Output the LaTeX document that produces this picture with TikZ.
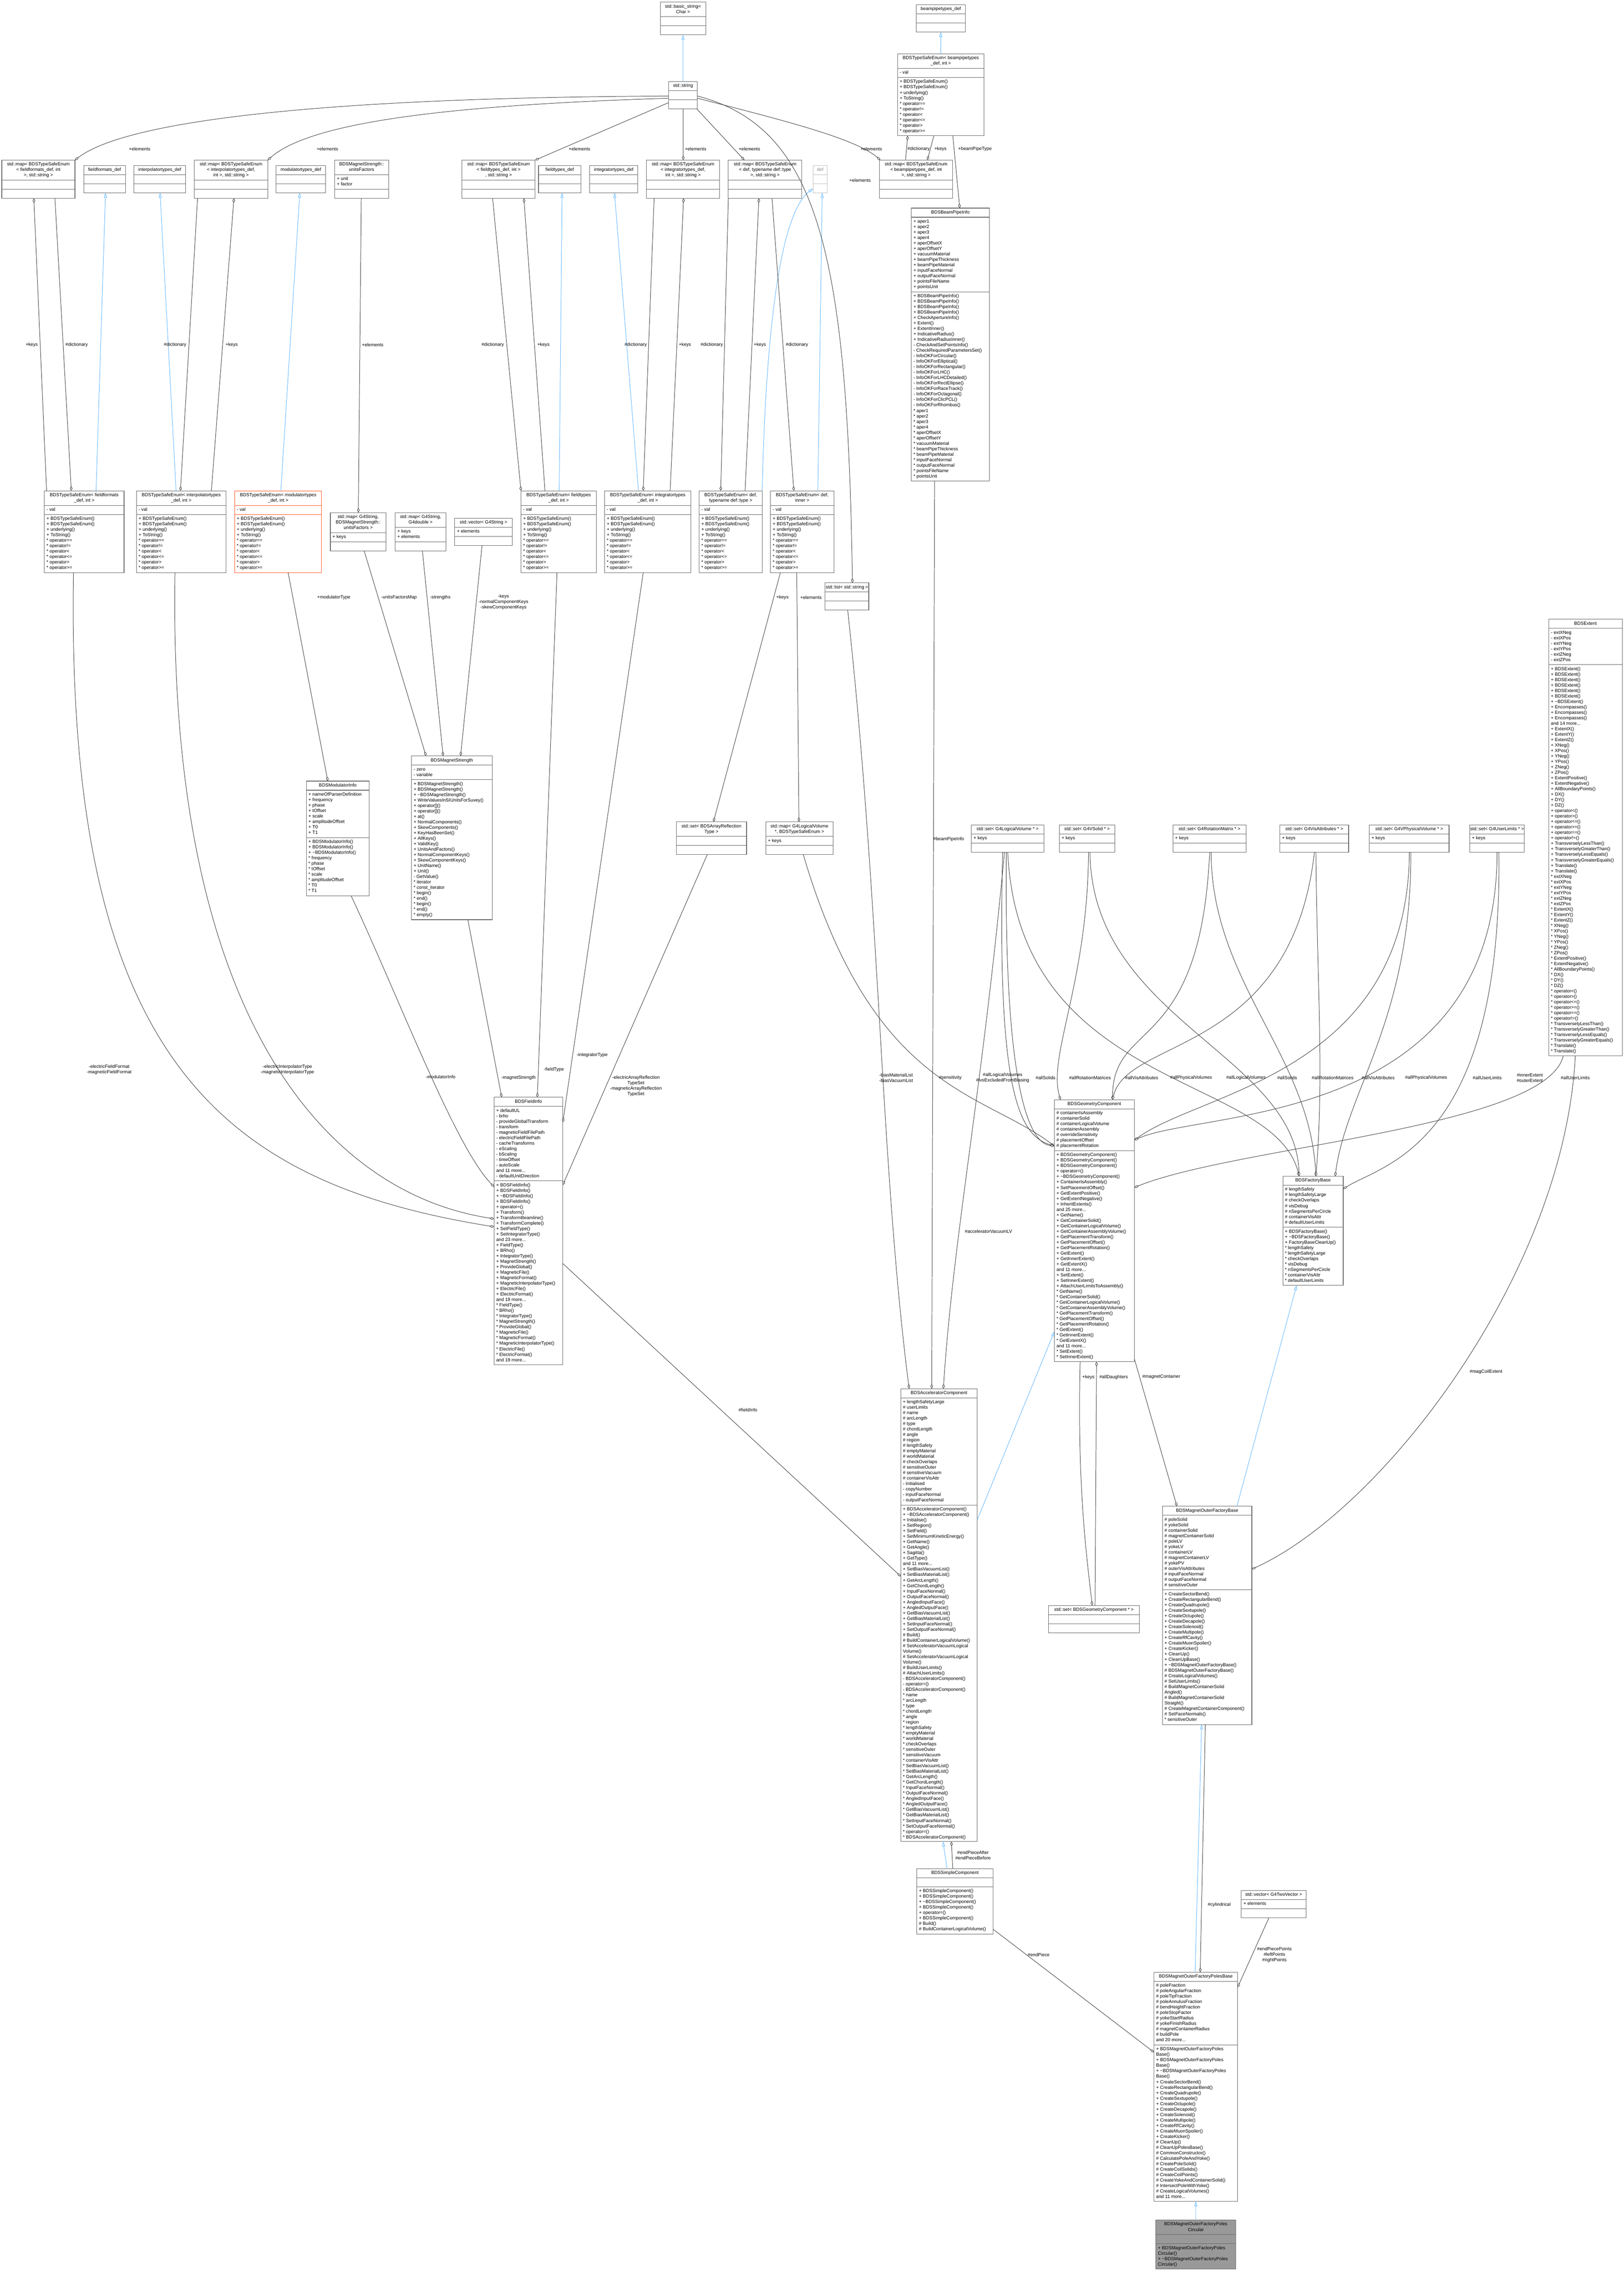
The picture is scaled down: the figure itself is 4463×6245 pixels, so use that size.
\documentclass[tikz,border=0pt]{standalone}
\usepackage{fontspec}
\newfontfamily\dxf{Liberation Sans}
\usetikzlibrary{arrows.meta,calc}
\tikzset{
 txt/.style={font=\dxf\fontsize{3.6}{4.27}\selectfont, inner sep=0, outer sep=0},
 lbl/.style={txt, align=center},
 cls/.style={draw=black!60, fill=white},
 clsred/.style={draw={rgb,255:red,255;green,87;blue,34}, fill=white},
 clsdef/.style={draw=black!25, fill=white},
 clsgray/.style={draw=black!60, fill=black!40},
 agg/.style={draw=black!75, line width=0.35pt, -{Diamond[open,fill=white,length=0.13cm,width=0.07cm]}},
 inh/.style={draw={rgb,255:red,99;green,184;blue,255}, line width=0.35pt, -{Triangle[open,fill=white,length=0.13cm,width=0.08cm]}}
}
\newcommand\ubox[9]{%
 \def\uN{#1}\def\uX{#2}\def\uY{#3}\def\uW{#4}\def\uT{#5}\def\uA{#6}\def\uM{#7}%
 \tikzset{curbox/.style={#8}}\def\uTC{#9}\uboxcont}
\newcommand\uboxcont[3]{%
 \pgfmathsetmacro\hT{\uT*15+10}%
 \pgfmathsetmacro\hA{\uA==0 ? 25 : \uA*15+10}%
 \pgfmathsetmacro\hM{\uM==0 ? 25 : \uM*15+10}%
 \pgfmathsetmacro\hH{(\hT+\hA+\hM)*0.01}%
 \pgfmathsetmacro\wc{\uW*0.01}%
 \node[curbox, line width=0.4pt, minimum width=\wc cm, minimum height=\hH cm, anchor=north west, inner sep=0, outer sep=0] (\uN) at (\uX,\uY) {};
 \draw[curbox, fill=none, line width=0.4pt] ({\uX},{\uY+\hT}) -- ++(\uW,0);
 \draw[curbox, fill=none, line width=0.4pt] ({\uX},{\uY+\hT+\hA}) -- ++(\uW,0);
 \node[txt, anchor=north, align=center, text=\uTC] at ({\uX+\uW/2},{\uY+5}) {\strut #1};
 \node[txt, anchor=north west, align=left, text=\uTC] at ({\uX+6},{\uY+\hT+5}) {\strut #2};
 \node[txt, anchor=north west, align=left, text=\uTC] at ({\uX+6},{\uY+\hT+\hA+5}) {\strut #3};
}
\def\enumM{+ BDSTypeSafeEnum()\\+ BDSTypeSafeEnum()\\+ underlying()\\+ ToString()\\* operator==\\* operator!=\\* operator<\\* operator<=\\* operator>\\* operator>=}
\def\tl{\textasciitilde}
\begin{document}
\begin{tikzpicture}[x=0.01cm,y=-0.01cm]
\useasboundingbox[fill=white] (0,0) rectangle (4463,6245);
% top
\ubox{bstr}{1815}{6}{125}{2}{0}{0}{cls}{black}{std::basic\_string\textless\\Char \textgreater}{}{}
\ubox{str}{1838}{224}{79}{1}{0}{0}{cls}{black}{std::string}{}{}
\ubox{bpdef}{2519}{13}{134}{1}{0}{0}{cls}{black}{beampipetypes\_def}{}{}
\ubox{bpenum}{2467}{148}{238}{2}{1}{10}{cls}{black}{BDSTypeSafeEnum\textless{} beampipetypes\\\_def, int \textgreater}{- val}{\enumM}
% map row
\ubox{mapFF}{5}{440}{201}{3}{0}{0}{cls}{black}{std::map\textless{} BDSTypeSafeEnum\\\textless{} fieldformats\_def, int\\\textgreater, std::string \textgreater}{}{}
\ubox{ffdef}{230}{455}{115}{1}{0}{0}{cls}{black}{fieldformats\_def}{}{}
\ubox{itdef}{368}{455}{142}{1}{0}{0}{cls}{black}{interpolatortypes\_def}{}{}
\ubox{mapIT}{534}{440}{202}{3}{0}{0}{cls}{black}{std::map\textless{} BDSTypeSafeEnum\\\textless{} interpolatortypes\_def,\\int \textgreater, std::string \textgreater}{}{}
\ubox{moddef}{759}{455}{136}{1}{0}{0}{cls}{black}{modulatortypes\_def}{}{}
\ubox{uf}{920}{440}{148}{2}{2}{0}{cls}{black}{BDSMagnetStrength::\\unitsFactors}{+ unit\\+ factor}{}
\ubox{mapFT}{1270}{440}{201}{3}{0}{0}{cls}{black}{std::map\textless{} BDSTypeSafeEnum\\\textless{} fieldtypes\_def, int \textgreater\\, std::string \textgreater}{}{}
\ubox{ftdef}{1480}{455}{117}{1}{0}{0}{cls}{black}{fieldtypes\_def}{}{}
\ubox{intdef}{1621}{455}{132}{1}{0}{0}{cls}{black}{integratortypes\_def}{}{}
\ubox{mapINT}{1777}{440}{201}{3}{0}{0}{cls}{black}{std::map\textless{} BDSTypeSafeEnum\\\textless{} integratortypes\_def,\\int \textgreater, std::string \textgreater}{}{}
\ubox{mapDEF}{2002}{440}{202}{3}{0}{0}{cls}{black}{std::map\textless{} BDSTypeSafeEnum\\\textless{} def, typename def::type\\\textgreater, std::string \textgreater}{}{}
\ubox{def}{2235}{455}{39}{1}{0}{0}{clsdef}{black!45}{def}{}{}
\ubox{mapBP}{2417}{440}{202}{3}{0}{0}{cls}{black}{std::map\textless{} BDSTypeSafeEnum\\\textless{} beampipetypes\_def, int\\\textgreater, std::string \textgreater}{}{}
\ubox{BPI}{2505}{572}{215}{1}{13}{34}{cls}{black}{BDSBeamPipeInfo}{+ aper1\\+ aper2\\+ aper3\\+ aper4\\+ aperOffsetX\\+ aperOffsetY\\+ vacuumMaterial\\+ beamPipeThickness\\+ beamPipeMaterial\\+ inputFaceNormal\\+ outputFaceNormal\\+ pointsFileName\\+ pointsUnit}{+ BDSBeamPipeInfo()\\+ BDSBeamPipeInfo()\\+ BDSBeamPipeInfo()\\+ BDSBeamPipeInfo()\\+ CheckApertureInfo()\\+ Extent()\\+ ExtentInner()\\+ IndicativeRadius()\\+ IndicativeRadiusInner()\\- CheckAndSetPointsInfo()\\- CheckRequiredParametersSet()\\- InfoOKForCircular()\\- InfoOKForElliptical()\\- InfoOKForRectangular()\\- InfoOKForLHC()\\- InfoOKForLHCDetailed()\\- InfoOKForRectEllipse()\\- InfoOKForRaceTrack()\\- InfoOKForOctagonal()\\- InfoOKForClicPCL()\\- InfoOKForRhombus()\\* aper1\\* aper2\\* aper3\\* aper4\\* aperOffsetX\\* aperOffsetY\\* vacuumMaterial\\* beamPipeThickness\\* beamPipeMaterial\\* inputFaceNormal\\* outputFaceNormal\\* pointsFileName\\* pointsUnit}
% enum row
\ubox{eFF}{122}{1349}{219}{2}{1}{10}{cls}{black}{BDSTypeSafeEnum\textless{} fieldformats\\\_def, int \textgreater}{- val}{\enumM}
\ubox{eIT}{375}{1349}{246}{2}{1}{10}{cls}{black}{BDSTypeSafeEnum\textless{} interpolatortypes\\\_def, int \textgreater}{- val}{\enumM}
\ubox{eMOD}{645}{1349}{239}{2}{1}{10}{clsred}{black}{BDSTypeSafeEnum\textless{} modulatortypes\\\_def, int \textgreater}{- val}{\enumM}
\ubox{mapUF}{908}{1409}{153}{3}{1}{0}{cls}{black}{std::map\textless{} G4String,\\BDSMagnetStrength::\\unitsFactors \textgreater}{+ keys}{}
\ubox{mapGD}{1086}{1409}{140}{2}{2}{0}{cls}{black}{std::map\textless{} G4String,\\G4double \textgreater}{+ keys\\+ elements}{}
\ubox{vecS}{1250}{1424}{158}{1}{1}{0}{cls}{black}{std::vector\textless{} G4String \textgreater}{+ elements}{}
\ubox{eFT}{1432}{1349}{207}{2}{1}{10}{cls}{black}{BDSTypeSafeEnum\textless{} fieldtypes\\\_def, int \textgreater}{- val}{\enumM}
\ubox{eINT}{1662}{1349}{237}{2}{1}{10}{cls}{black}{BDSTypeSafeEnum\textless{} integratortypes\\\_def, int \textgreater}{- val}{\enumM}
\ubox{eDEF}{1922}{1349}{173}{2}{1}{10}{cls}{black}{BDSTypeSafeEnum\textless{} def,\\typename def::type \textgreater}{- val}{\enumM}
\ubox{eINN}{2118}{1349}{174}{2}{1}{10}{cls}{black}{BDSTypeSafeEnum\textless{} def,\\inner \textgreater}{- val}{\enumM}
\ubox{listS}{2268}{1602}{120}{1}{0}{0}{cls}{black}{std::list\textless{} std::string \textgreater}{}{}
% middle
\ubox{Mod}{842}{2147}{173}{1}{8}{10}{cls}{black}{BDSModulatorInfo}{+ nameOfParserDefinition\\+ frequency\\+ phase\\+ tOffset\\+ scale\\+ amplitudeOffset\\+ T0\\+ T1}{+ BDSModulatorInfo()\\+ BDSModulatorInfo()\\+ \tl BDSModulatorInfo()\\* frequency\\* phase\\* tOffset\\* scale\\* amplitudeOffset\\* T0\\* T1}
\ubox{MS}{1131}{2078}{222}{1}{2}{25}{cls}{black}{BDSMagnetStrength}{- zero\\- variable}{+ BDSMagnetStrength()\\+ BDSMagnetStrength()\\+ \tl BDSMagnetStrength()\\+ WriteValuesInSIUnitsForSuvey()\\+ operator[]()\\+ operator[]()\\+ at()\\+ NormalComponents()\\+ SkewComponents()\\+ KeyHasBeenSet()\\+ AllKeys()\\+ ValidKey()\\+ UnitsAndFactors()\\+ NormalComponentKeys()\\+ SkewComponentKeys()\\+ UnitName()\\+ Unit()\\- GetValue()\\* iterator\\* const\_iterator\\* begin()\\* end()\\* begin()\\* end()\\* empty()}
\ubox{ART}{1859}{2259}{193}{2}{0}{0}{cls}{black}{std::set\textless{} BDSArrayReflection\\Type \textgreater}{}{}
\ubox{mapLV}{2105}{2259}{185}{2}{1}{0}{cls}{black}{std::map\textless{} G4LogicalVolume\\*, BDSTypeSafeEnum \textgreater}{+ keys}{}
\ubox{setLV}{2670}{2267}{199}{1}{1}{0}{cls}{black}{std::set\textless{} G4LogicalVolume * \textgreater}{+ keys}{}
\ubox{setSol}{2912}{2267}{152}{1}{1}{0}{cls}{black}{std::set\textless{} G4VSolid * \textgreater}{+ keys}{}
\ubox{setRot}{3224}{2267}{201}{1}{1}{0}{cls}{black}{std::set\textless{} G4RotationMatrix * \textgreater}{+ keys}{}
\ubox{setVis}{3518}{2267}{189}{1}{1}{0}{cls}{black}{std::set\textless{} G4VisAttributes * \textgreater}{+ keys}{}
\ubox{setPV}{3764}{2267}{219}{1}{1}{0}{cls}{black}{std::set\textless{} G4VPhysicalVolume * \textgreater}{+ keys}{}
\ubox{setUL}{4040}{2267}{150}{1}{1}{0}{cls}{black}{std::set\textless{} G4UserLimits * \textgreater}{+ keys}{}
\ubox{Extent}{4257}{1702}{202}{1}{6}{71}{cls}{black}{BDSExtent}{- extXNeg\\- extXPos\\- extYNeg\\- extYPos\\- extZNeg\\- extZPos}{+ BDSExtent()\\+ BDSExtent()\\+ BDSExtent()\\+ BDSExtent()\\+ BDSExtent()\\+ BDSExtent()\\+ \tl BDSExtent()\\+ Encompasses()\\+ Encompasses()\\+ Encompasses()\\and 14 more...\\+ ExtentX()\\+ ExtentY()\\+ ExtentZ()\\+ XNeg()\\+ XPos()\\+ YNeg()\\+ YPos()\\+ ZNeg()\\+ ZPos()\\+ ExtentPositive()\\+ ExtentNegative()\\+ AllBoundaryPoints()\\+ DX()\\+ DY()\\+ DZ()\\+ operator\textless()\\+ operator\textgreater()\\+ operator\textless=()\\+ operator\textgreater=()\\+ operator==()\\+ operator!=()\\+ TransverselyLessThan()\\+ TransverselyGreaterThan()\\+ TransverselyLessEquals()\\+ TransverselyGreaterEquals()\\+ Translate()\\+ Translate()\\* extXNeg\\* extXPos\\* extYNeg\\* extYPos\\* extZNeg\\* extZPos\\* ExtentX()\\* ExtentY()\\* ExtentZ()\\* XNeg()\\* XPos()\\* YNeg()\\* YPos()\\* ZNeg()\\* ZPos()\\* ExtentPositive()\\* ExtentNegative()\\* AllBoundaryPoints()\\* DX()\\* DY()\\* DZ()\\* operator\textless()\\* operator\textgreater()\\* operator\textless=()\\* operator\textgreater=()\\* operator==()\\* operator!=()\\* TransverselyLessThan()\\* TransverselyGreaterThan()\\* TransverselyLessEquals()\\* TransverselyGreaterEquals()\\* Translate()\\* Translate()}
\ubox{FieldInfo}{1358}{3016}{189}{1}{13}{33}{cls}{black}{BDSFieldInfo}{+ defaultUL\\- brho\\- provideGlobalTransform\\- transform\\- magneticFieldFilePath\\- electricFieldFilePath\\- cacheTransforms\\- eScaling\\- bScaling\\- timeOffset\\- autoScale\\and 11 more...\\- defaultUnitDirection}{+ BDSFieldInfo()\\+ BDSFieldInfo()\\+ \tl BDSFieldInfo()\\+ BDSFieldInfo()\\+ operator=()\\+ Transform()\\+ TransformBeamline()\\+ TransformComplete()\\+ SetFieldType()\\+ SetIntegratorType()\\and 23 more...\\+ FieldType()\\+ BRho()\\+ IntegratorType()\\+ MagnetStrength()\\+ ProvideGlobal()\\+ MagneticFile()\\+ MagneticFormat()\\+ MagneticInterpolatorType()\\+ ElectricFile()\\+ ElectricFormat()\\and 19 more...\\* FieldType()\\* BRho()\\* IntegratorType()\\* MagnetStrength()\\* ProvideGlobal()\\* MagneticFile()\\* MagneticFormat()\\* MagneticInterpolatorType()\\* ElectricFile()\\* ElectricFormat()\\and 19 more...}
\ubox{GC}{2898}{3023}{220}{1}{7}{38}{cls}{black}{BDSGeometryComponent}{\# containerIsAssembly\\\# containerSolid\\\# containerLogicalVolume\\\# containerAssembly\\\# overrideSensitivity\\\# placementOffset\\\# placementRotation}{+ BDSGeometryComponent()\\+ BDSGeometryComponent()\\+ BDSGeometryComponent()\\+ operator=()\\+ \tl BDSGeometryComponent()\\+ ContainerIsAssembly()\\+ SetPlacementOffset()\\+ GetExtentPositive()\\+ GetExtentNegative()\\+ InheritExtents()\\and 25 more...\\+ GetName()\\+ GetContainerSolid()\\+ GetContainerLogicalVolume()\\+ GetContainerAssemblyVolume()\\+ GetPlacementTransform()\\+ GetPlacementOffset()\\+ GetPlacementRotation()\\+ GetExtent()\\+ GetInnerExtent()\\+ GetExtentX()\\and 11 more...\\+ SetExtent()\\+ SetInnerExtent()\\+ AttachUserLimitsToAssembly()\\* GetName()\\* GetContainerSolid()\\* GetContainerLogicalVolume()\\* GetContainerAssemblyVolume()\\* GetPlacementTransform()\\* GetPlacementOffset()\\* GetPlacementRotation()\\* GetExtent()\\* GetInnerExtent()\\* GetExtentX()\\and 11 more...\\* SetExtent()\\* SetInnerExtent()}
\ubox{FB}{3526}{3233}{166}{1}{7}{10}{cls}{black}{BDSFactoryBase}{\# lengthSafety\\\# lengthSafetyLarge\\\# checkOverlaps\\\# visDebug\\\# nSegmentsPerCircle\\\# containerVisAttr\\\# defaultUserLimits}{+ BDSFactoryBase()\\+ \tl BDSFactoryBase()\\+ FactoryBaseCleanUp()\\* lengthSafety\\* lengthSafetyLarge\\* checkOverlaps\\* visDebug\\* nSegmentsPerCircle\\* containerVisAttr\\* defaultUserLimits}
\ubox{AC}{2476}{3817}{210}{1}{19}{61}{cls}{black}{BDSAcceleratorComponent}{+ lengthSafetyLarge\\\# userLimits\\\# name\\\# arcLength\\\# type\\\# chordLength\\\# angle\\\# region\\\# lengthSafety\\\# emptyMaterial\\\# worldMaterial\\\# checkOverlaps\\\# sensitiveOuter\\\# sensitiveVacuum\\\# containerVisAttr\\- initialised\\- copyNumber\\- inputFaceNormal\\- outputFaceNormal}{+ BDSAcceleratorComponent()\\+ \tl BDSAcceleratorComponent()\\+ Initialise()\\+ SetRegion()\\+ SetField()\\+ SetMinimumKineticEnergy()\\+ GetName()\\+ GetAngle()\\+ Sagitta()\\+ GetType()\\and 11 more...\\+ SetBiasVacuumList()\\+ SetBiasMaterialList()\\+ GetArcLength()\\+ GetChordLength()\\+ InputFaceNormal()\\+ OutputFaceNormal()\\+ AngledInputFace()\\+ AngledOutputFace()\\+ GetBiasVacuumList()\\+ GetBiasMaterialList()\\+ SetInputFaceNormal()\\+ SetOutputFaceNormal()\\\# Build()\\\# BuildContainerLogicalVolume()\\\# SetAcceleratorVacuumLogical\\Volume()\\\# SetAcceleratorVacuumLogical\\Volume()\\\# BuildUserLimits()\\\# AttachUserLimits()\\- BDSAcceleratorComponent()\\- operator=()\\- BDSAcceleratorComponent()\\* name\\* arcLength\\* type\\* chordLength\\* angle\\* region\\* lengthSafety\\* emptyMaterial\\* worldMaterial\\* checkOverlaps\\* sensitiveOuter\\* sensitiveVacuum\\* containerVisAttr\\* SetBiasVacuumList()\\* SetBiasMaterialList()\\* GetArcLength()\\* GetChordLength()\\* InputFaceNormal()\\* OutputFaceNormal()\\* AngledInputFace()\\* AngledOutputFace()\\* GetBiasVacuumList()\\* GetBiasMaterialList()\\* SetInputFaceNormal()\\* SetOutputFaceNormal()\\* operator=()\\* BDSAcceleratorComponent()}
\ubox{setGC}{2882}{4413}{250}{1}{0}{0}{cls}{black}{std::set\textless{} BDSGeometryComponent * \textgreater}{}{}
\ubox{MOFB}{3195}{4140}{246}{1}{13}{24}{cls}{black}{BDSMagnetOuterFactoryBase}{\# poleSolid\\\# yokeSolid\\\# containerSolid\\\# magnetContainerSolid\\\# poleLV\\\# yokeLV\\\# containerLV\\\# magnetContainerLV\\\# yokePV\\\# outerVisAttributes\\\# inputFaceNormal\\\# outputFaceNormal\\\# sensitiveOuter}{+ CreateSectorBend()\\+ CreateRectangularBend()\\+ CreateQuadrupole()\\+ CreateSextupole()\\+ CreateOctupole()\\+ CreateDecapole()\\+ CreateSolenoid()\\+ CreateMultipole()\\+ CreateRfCavity()\\+ CreateMuonSpoiler()\\+ CreateKicker()\\+ CleanUp()\\+ CleanUpBase()\\+ \tl BDSMagnetOuterFactoryBase()\\\# BDSMagnetOuterFactoryBase()\\\# CreateLogicalVolumes()\\\# SetUserLimits()\\\# BuildMagnetContainerSolid\\Angled()\\\# BuildMagnetContainerSolid\\Straight()\\\# CreateMagnetContainerComponent()\\\# SetFaceNormals()\\* sensitiveOuter}
\ubox{SC}{2520}{5136}{210}{1}{0}{8}{cls}{black}{BDSSimpleComponent}{}{+ BDSSimpleComponent()\\+ BDSSimpleComponent()\\+ \tl BDSSimpleComponent()\\+ BDSSimpleComponent()\\+ operator=()\\+ BDSSimpleComponent()\\\# Build()\\\# BuildContainerLogicalVolume()}
\ubox{vec2}{3412}{5196}{178}{1}{1}{0}{cls}{black}{std::vector\textless{} G4TwoVector \textgreater}{+ elements}{}
\ubox{PB}{3172}{5421}{230}{1}{11}{28}{cls}{black}{BDSMagnetOuterFactoryPolesBase}{\# poleFraction\\\# poleAngularFraction\\\# poleTipFraction\\\# poleAnnulusFraction\\\# bendHeightFraction\\\# poleStopFactor\\\# yokeStartRadius\\\# yokeFinishRadius\\\# magnetContainerRadius\\\# buildPole\\and 20 more...}{+ BDSMagnetOuterFactoryPoles\\Base()\\+ BDSMagnetOuterFactoryPoles\\Base()\\+ \tl BDSMagnetOuterFactoryPoles\\Base()\\+ CreateSectorBend()\\+ CreateRectangularBend()\\+ CreateQuadrupole()\\+ CreateSextupole()\\+ CreateOctupole()\\+ CreateDecapole()\\+ CreateSolenoid()\\+ CreateMultipole()\\+ CreateRfCavity()\\+ CreateMuonSpoiler()\\+ CreateKicker()\\\# CleanUp()\\\# CleanUpPolesBase()\\\# CommonConstructor()\\\# CalculatePoleAndYoke()\\\# CreatePoleSolid()\\\# CreateCoilSolids()\\\# CreateCoilPoints()\\\# CreateYokeAndContainerSolid()\\\# IntersectPoleWithYoke()\\\# CreateLogicalVolumes()\\and 11 more...}
\ubox{gray}{3177}{6102}{220}{2}{0}{4}{clsgray}{black}{BDSMagnetOuterFactoryPoles\\Circular}{}{+ BDSMagnetOuterFactoryPoles\\Circular()\\+ \tl BDSMagnetOuterFactoryPoles\\Circular()}

% ---------- inheritance
\draw[inh] (str.north) -- (bstr.south);
\draw[inh] (bpenum.north) -- (bpdef.south);
\draw[inh] ($(eFF.north west)+(142,0)$) -- ($(ffdef.south west)+(60,0)$);
\draw[inh] ($(eIT.north west)+(109,0)$) -- ($(itdef.south west)+(72,0)$);
\draw[inh] ($(eMOD.north west)+(127,0)$) -- ($(moddef.south west)+(65,0)$);
\draw[inh] ($(eFT.north west)+(105,0)$) -- ($(ftdef.south west)+(65,0)$);
\draw[inh] ($(eINT.north west)+(93,0)$) -- ($(intdef.south west)+(68,0)$);
\draw[inh] (eDEF.north east) .. controls (2110,700) and (2180,560) .. ($(def.south west)+(0,-12)$);
\draw[inh] ($(eINN.north west)+(130,0)$) -- ($(def.south west)+(25,0)$);
\draw[inh] ($(AC.north east)+(0,361)$) -- ($(GC.north west)+(0,637)$);
\draw[inh] ($(MOFB.north west)+(205,0)$) -- ($(FB.south west)+(38,0)$);
\draw[inh] ($(SC.north west)+(83,0)$) -- ($(AC.south west)+(116,0)$);
\draw[inh] ($(PB.north west)+(113,0)$) -- ($(MOFB.south west)+(108,0)$);
\draw[inh] (gray.north) -- (PB.south);

% ---------- aggregation: string
\draw[agg] ($(str.north west)+(0,40)$) .. controls (900,268) and (350,330) .. (mapFF.north east);
\draw[agg] ($(str.north west)+(0,46)$) .. controls (1200,290) and (850,340) .. (mapIT.north east);
\draw[agg] ($(str.north west)+(0,58)$) -- (mapFT.north east);
\draw[agg] ($(str.south west)+(40,0)$) -- ($(mapINT.north west)+(101,0)$);
\draw[agg] ($(str.south west)+(77,0)$) -- ($(mapDEF.north west)+(44,0)$);
\draw[agg] ($(str.north east)+(0,46)$) .. controls (2150,330) and (2350,380) .. ($(mapBP.north west)+(3,0)$);
\draw[agg] ($(str.north east)+(0,40)$) .. controls (2250,350) and (2330,700) .. ($(listS.north west)+(75,0)$);
\node[lbl] (l1) at (384,409) {+elements};
\node[lbl] (l2) at (900,409) {+elements};
\node[lbl] (l3) at (1593,409) {+elements};
\node[lbl] (l4) at (1912,409) {+elements};
\node[lbl] (l5) at (2060,409) {+elements};
\node[lbl] (l6) at (2395,409) {+elements};
\node[lbl] (l7) at (2364,496) {+elements};
\draw[agg] ($(uf.south west)+(73,0)$) -- ($(mapUF.north west)+(77,0)$);
\node[lbl, anchor=west] (l8) at (995,948) {+elements};
% dictionary / keys
\draw[agg] ($(eFF.north west)+(6,0)$) -- ($(mapFF.south west)+(88,0)$);
\draw[agg] ($(mapFF.south west)+(146,0)$) -- ($(eFF.north west)+(74,0)$);
\node[lbl, anchor=east] at (104,948) {+keys};
\node[lbl, anchor=west] at (180,948) {\#dictionary};
\draw[agg] ($(mapIT.south west)+(9,0)$) -- ($(eIT.north west)+(121,0)$);
\draw[agg] ($(eIT.north west)+(206,0)$) -- ($(mapIT.south west)+(109,0)$);
\node[lbl, anchor=east] at (512,948) {\#dictionary};
\node[lbl, anchor=west] at (620,948) {+keys};
\draw[agg] ($(mapFT.south west)+(84,0)$) -- (eFT.north west);
\draw[agg] ($(eFT.north west)+(66,0)$) -- ($(mapFT.south west)+(170,0)$);
\node[lbl, anchor=east] at (1385,948) {\#dictionary};
\node[lbl, anchor=west] at (1477,948) {+keys};
\draw[agg] ($(mapINT.south west)+(21,0)$) -- ($(eINT.north west)+(106,0)$);
\draw[agg] ($(eINT.north west)+(180,0)$) -- ($(mapINT.south west)+(102,0)$);
\node[lbl, anchor=east] at (1778,948) {\#dictionary};
\node[lbl, anchor=west] at (1866,948) {+keys};
\draw[agg] (mapDEF.south west) -- ($(eDEF.north west)+(59,0)$);
\draw[agg] ($(eDEF.north west)+(126,0)$) -- ($(mapDEF.south west)+(84,0)$);
\node[lbl, anchor=east] at (1987,948) {\#dictionary};
\node[lbl, anchor=west] at (2072,948) {+keys};
\draw[agg] ($(mapDEF.south west)+(120,0)$) -- ($(eINN.north west)+(64,0)$);
\node[lbl, anchor=west] at (2160,948) {\#dictionary};
\draw[agg] ($(mapBP.north west)+(72,0)$) -- ($(bpenum.south west)+(28,0)$);
\draw[agg] ($(bpenum.south west)+(100,0)$) -- ($(mapBP.north west)+(132,0)$);
\draw[agg] ($(bpenum.south west)+(152,0)$) -- ($(BPI.north west)+(133,0)$);
\node[lbl] at (2525,409) {\#dictionary};
\node[lbl] at (2585,409) {+keys};
\node[lbl] at (2680,409) {+beamPipeType};
% below enums
\draw[agg] ($(eFF.south west)+(80,0)$) .. controls (180,2900) and (600,3250) .. ($(FieldInfo.north west)+(0,356)$);
\node[lbl] at (300,2940) {-electricFieldFormat\\-magneticFieldFormat};
\draw[agg] ($(eIT.south west)+(106,0)$) .. controls (460,2800) and (900,3280) .. ($(FieldInfo.north west)+(0,334)$);
\node[lbl] at (790,2940) {-electricInterpolatorType\\-magneticInterpolatorType};
\draw[agg] ($(eMOD.south west)+(147,0)$) -- ($(Mod.north west)+(59,0)$);
\node[lbl, anchor=west] at (872,1642) {+modulatorType};
\draw[agg] ($(mapUF.south west)+(93,0)$) -- ($(MS.north west)+(40,0)$);
\node[lbl, anchor=west] at (1048,1642) {-unitsFactorsMap};
\draw[agg] ($(mapGD.south west)+(75,0)$) -- ($(MS.north west)+(87,0)$);
\node[lbl, anchor=west] at (1182,1642) {-strengths};
\draw[agg] ($(vecS.south west)+(75,0)$) -- ($(MS.north west)+(135,0)$);
\node[lbl] at (1384,1655) {-keys\\-normalComponentKeys\\-skewComponentKeys};
\draw[agg] ($(eFT.south west)+(99,0)$) -- ($(FieldInfo.north west)+(119,0)$);
\node[lbl, anchor=west] at (1495,2940) {-fieldType};
\draw[agg] ($(eINT.south west)+(106,0)$) -- ($(FieldInfo.north east)+(0,69)$);
\node[lbl, anchor=west] at (1585,2900) {-integratorType};
\draw[agg] ($(MS.south west)+(155,0)$) -- ($(FieldInfo.north west)+(21,0)$);
\node[lbl, anchor=west] at (1378,2962) {-magnetStrength};
\draw[agg] ($(Mod.south west)+(123,0)$) .. controls (1100,2750) and (1250,3150) .. ($(FieldInfo.north west)+(0,246)$);
\node[lbl] at (1211,2960) {-modulatorInfo};
\draw[agg] ($(ART.south west)+(85,0)$) -- ($(FieldInfo.north east)+(0,241)$);
\node[lbl] at (1748,2985) {-electricArrayReflection\\TypeSet\\-magneticArrayReflection\\TypeSet};
\draw[agg] ($(eINN.south west)+(27,0)$) -- ($(ART.north west)+(102,0)$);
\node[lbl, anchor=west] at (2134,1642) {+keys};
\draw[agg] ($(eINN.south west)+(72,0)$) -- ($(mapLV.north west)+(91,0)$);
\node[lbl, anchor=west] at (2200,1642) {+elements};
\draw[agg] ($(listS.south west)+(62,0)$) .. controls (2420,2500) and (2420,3200) .. ($(AC.north west)+(23,0)$);
\node[lbl] at (2463,2962) {-biasMaterialList\\-biasVacuumList};
\draw[agg] ($(BPI.south west)+(64,0)$) -- ($(AC.north west)+(85,0)$);
\node[lbl, anchor=west] at (2565,2307) {\#beamPipeInfo};
\draw[agg] ($(setLV.south west)+(91,0)$) .. controls (2700,3000) and (2620,3400) .. ($(AC.north west)+(117,0)$);
\node[lbl] at (2717,3384) {\#acceleratorVacuumLV};
% to geometry component
\draw[agg] ($(mapLV.south west)+(103,0)$) .. controls (2400,3000) and (2700,3000) .. ($(GC.north west)+(0,127)$);
\node[lbl] at (2612,2962) {\#sensitivity};
\draw[agg] ($(setLV.south west)+(86,0)$) .. controls (2740,3000) and (2800,3120) .. ($(GC.north west)+(0,127)$);
\draw[agg] ($(setLV.south west)+(96,0)$) .. controls (2760,2950) and (2820,3140) .. ($(GC.north west)+(0,127)$);
\node[lbl] at (2756,2962) {\#allLogicalVolumes\\\#lvsExcludedFromBiasing};
\draw[agg] ($(setSol.south west)+(80,0)$) .. controls (2990,2700) and (2880,2900) .. ($(GC.north west)+(17,0)$);
\node[lbl] at (2874,2962) {\#allSolids};
\draw[agg] ($(setRot.south west)+(101,0)$) .. controls (3300,2900) and (3060,2800) .. ($(GC.north west)+(160,0)$);
\node[lbl] at (2996,2962) {\#allRotationMatrices};
\draw[agg] ($(setVis.south west)+(95,0)$) .. controls (3550,2900) and (3100,2850) .. ($(GC.north west)+(160,0)$);
\node[lbl] at (3138,2962) {\#allVisAttributes};
\draw[agg] ($(setPV.south west)+(110,0)$) .. controls (3870,2950) and (3300,3000) .. ($(GC.north east)+(0,111)$);
\node[lbl] at (3274,2962) {\#allPhysicalVolumes};
\draw[agg] ($(setUL.south west)+(75,0)$) .. controls (4115,3100) and (3300,3050) .. ($(GC.north east)+(0,111)$);
\node[lbl] at (4088,2962) {\#allUserLimits};
\draw[agg] ($(Extent.south west)+(40,0)$) .. controls (4250,3100) and (3400,3150) .. ($(GC.north east)+(0,241)$);
\node[lbl] at (4205,2962) {\#innerExtent\\\#outerExtent};
% to factory base
\draw[agg] ($(setLV.south west)+(100,0)$) .. controls (2800,3000) and (3500,2950) .. ($(FB.north west)+(45,0)$);
\node[lbl] at (3425,2962) {\#allLogicalVolumes};
\draw[agg] ($(setSol.south west)+(84,0)$) .. controls (3000,2800) and (3560,2900) .. ($(FB.north west)+(45,0)$);
\node[lbl] at (3538,2962) {\#allSolids};
\draw[agg] ($(setRot.south west)+(105,0)$) .. controls (3330,2700) and (3600,2900) .. ($(FB.north west)+(91,0)$);
\node[lbl] at (3663,2962) {\#allRotationMatrices};
\draw[agg] ($(setVis.south west)+(99,0)$) .. controls (3620,2700) and (3640,2950) .. ($(FB.north west)+(91,0)$);
\node[lbl] at (3788,2962) {\#allVisAttributes};
\draw[agg] ($(setPV.south west)+(114,0)$) .. controls (3880,2800) and (3700,3000) .. ($(FB.north west)+(144,0)$);
\node[lbl] at (3920,2962) {\#allPhysicalVolumes};
\draw[agg] ($(setUL.south west)+(80,0)$) .. controls (4130,3150) and (3800,3200) .. ($(FB.north east)+(0,35)$);
\node[lbl] at (4330,2962) {\#allUserLimits};
\draw[agg] ($(Extent.south west)+(73,0)$) .. controls (4300,3500) and (3800,4150) .. ($(MOFB.north east)+(0,173)$);
\node[lbl, anchor=west] at (4040,3770) {\#magCoilExtent};
% lower
\draw[agg] ($(FieldInfo.north east)+(0,457)$) -- ($(AC.north west)+(0,516)$);
\node[lbl, anchor=south west] at (2030,3880) {\#fieldInfo};
\draw[agg] ($(GC.south west)+(71,0)$) .. controls (2960,4100) and (2990,4300) .. ($(setGC.north west)+(120,0)$);
\node[lbl, anchor=west] at (2975,3785) {+keys};
\draw[agg] ($(setGC.north west)+(128,0)$) -- ($(GC.south west)+(116,0)$);
\node[lbl, anchor=west] at (3022,3785) {\#allDaughters};
\draw[agg] ($(GC.south east)+(0,-8)$) -- ($(MOFB.north west)+(40,0)$);
\node[lbl, anchor=west] at (3140,3784) {\#magnetContainer};
\draw[agg] ($(SC.north west)+(99,0)$) -- ($(AC.south west)+(139,0)$);
\node[lbl, anchor=west] at (2626,5100) {\#endPieceAfter\\\#endPieceBefore};
\draw[agg] ($(SC.south east)+(0,-13)$) -- ($(PB.north west)+(0,220)$);
\node[lbl] at (2855,5373) {\#endPiece};
\draw[agg] ($(MOFB.south west)+(118,0)$) -- ($(PB.north west)+(127,0)$);
\node[lbl, anchor=west] at (3320,5235) {\#cylindrical};
\draw[agg] ($(vec2.south west)+(76,0)$) -- ($(PB.north east)+(0,41)$);
\node[lbl] at (3503,5373) {\#endPiecePoints\\\#leftPoints\\\#rightPoints};
\end{tikzpicture}
\end{document}
